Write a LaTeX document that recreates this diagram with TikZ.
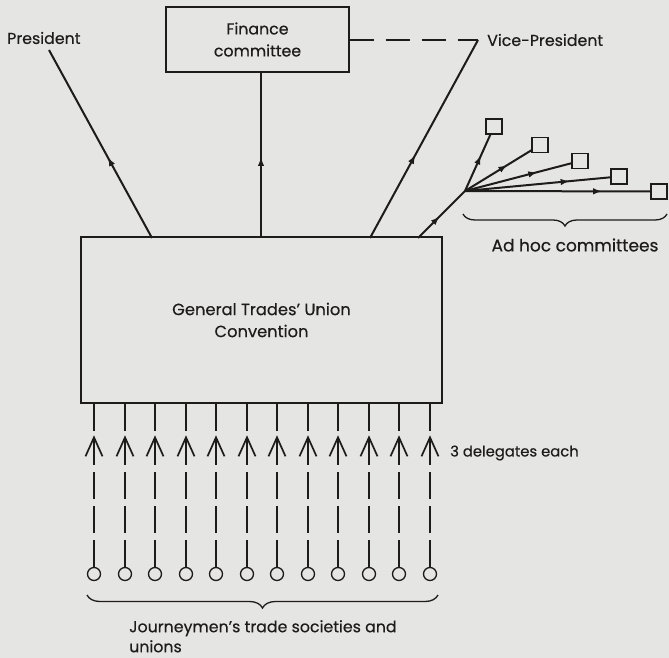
\documentclass[tikz,border=0pt]{standalone}
\usepackage{fontspec}
\setmainfont{Poppins}[FakeBold=0.4]
\usetikzlibrary{arrows.meta,decorations.markings,decorations.pathreplacing,calc}
\definecolor{bg}{RGB}{229,229,228}
\definecolor{ink}{RGB}{30,27,27}
\begin{document}
\begin{tikzpicture}[x=1pt,y=-1pt,
  every node/.style={text=ink},
  lbl/.style={font=\fontsize{15.8}{22}\selectfont, inner sep=0pt},
  box/.style={draw=ink, line width=1.3pt, fill=bg, align=center, font=\fontsize{15.8}{22}\selectfont, inner sep=0pt},
  conn/.style={draw=ink, line width=2pt},
  mid/.style={postaction={decorate}, decoration={markings, mark=at position #1 with {\arrow{Latex[length=9pt,width=6.5pt]}}}},
  sq/.style={draw=ink, line width=1.3pt, fill=bg, minimum width=16pt, minimum height=15pt, inner sep=0pt},
  circ/.style={draw=ink, line width=1.3pt, circle, minimum size=13pt, inner sep=0pt, fill=bg},
  deleg/.style={draw=ink, line width=2pt, dash pattern=on 27pt off 7pt, postaction={decorate}, decoration={markings, mark=at position 129.5pt with {\draw[solid, line width=1.7pt, ink] (-19pt,-8.5pt) -- (0pt,0pt) -- (-19pt,8.5pt);}}},
  brc/.style={draw=ink, line width=1.3pt, decorate, decoration={brace, amplitude=#1}},
]
\fill[bg] (0,0) rectangle (669,658);
\useasboundingbox (0,0) rectangle (669,658);

% boxes
\node[box, minimum width=183pt, minimum height=65pt] (fin) at (257.5,39.5) {Finance\\committee};
\node[box, minimum width=361pt, minimum height=166pt, font=\fontsize{16.3}{22}\selectfont] (gtu) at (261.5,320) {General Trades’ Union\\Convention};

% labels
\node[lbl, anchor=west] (pres) at (7,38) {President};
\node[lbl, anchor=west] (vp) at (487,40) {Vice-President};
\node[lbl, anchor=west, font=\fontsize{14.8}{20}\selectfont] (del) at (450,453) {3 delegates each};
\node[lbl, font=\fontsize{17}{20}\selectfont] (adhoc) at (575,245) {Ad hoc committees};
\node[lbl, anchor=north west, align=left, font=\fontsize{15.8}{20}\selectfont] (jour) at (129,620) {Journeymen’s trade societies and\\unions};

% coordinates
\coordinate (ptop) at (49,50);
\coordinate (vtop) at (478,40);
\coordinate (hub) at (465,191);
\coordinate (g1) at (152,238);
\coordinate (g2) at (261,238);
\coordinate (g3) at (370,238);
\coordinate (g4) at (418,238);

% ad hoc committee squares
\node[sq] (c1) at (494,126.5) {};
\node[sq] (c2) at (540,145) {};
\node[sq] (c3) at (580,161) {};
\node[sq] (c4) at (619,176.5) {};
\node[sq] (c5) at (659,191.5) {};

% main connectors
\draw[conn, mid=0.43] (g1) -- (ptop);
\draw[conn, mid=0.49] (g2) -- (g2 |- fin.south);
\draw[conn, mid=0.42] (g3) -- (vtop);
\draw[conn, dash pattern=on 24pt off 12pt] (fin.east |- vtop) -- (vtop);
\draw[conn, mid=0.46] (g4) -- (hub);
\draw[conn, mid=0.63] (hub) -- (c1);
\draw[conn, mid=0.64] (hub) -- (c2);
\draw[conn, mid=0.68] (hub) -- (c3);
\draw[conn, mid=0.72] (hub) -- (c4);
\draw[conn, mid=0.74] (hub) -- (c5);

% delegates
\foreach \i in {0,...,11}{
  \pgfmathtruncatemacro{\xx}{94+30.5*\i+0.5}
  \node[circ] (s\i) at (\xx,574) {};
  \draw[deleg] (s\i.north) -- (s\i.north |- gtu.south);
}

% braces
\draw[brc=12pt] (667,214) -- (463,214);
\draw[brc=13pt] (438,595) -- (87,595);
\end{tikzpicture}
\end{document}
